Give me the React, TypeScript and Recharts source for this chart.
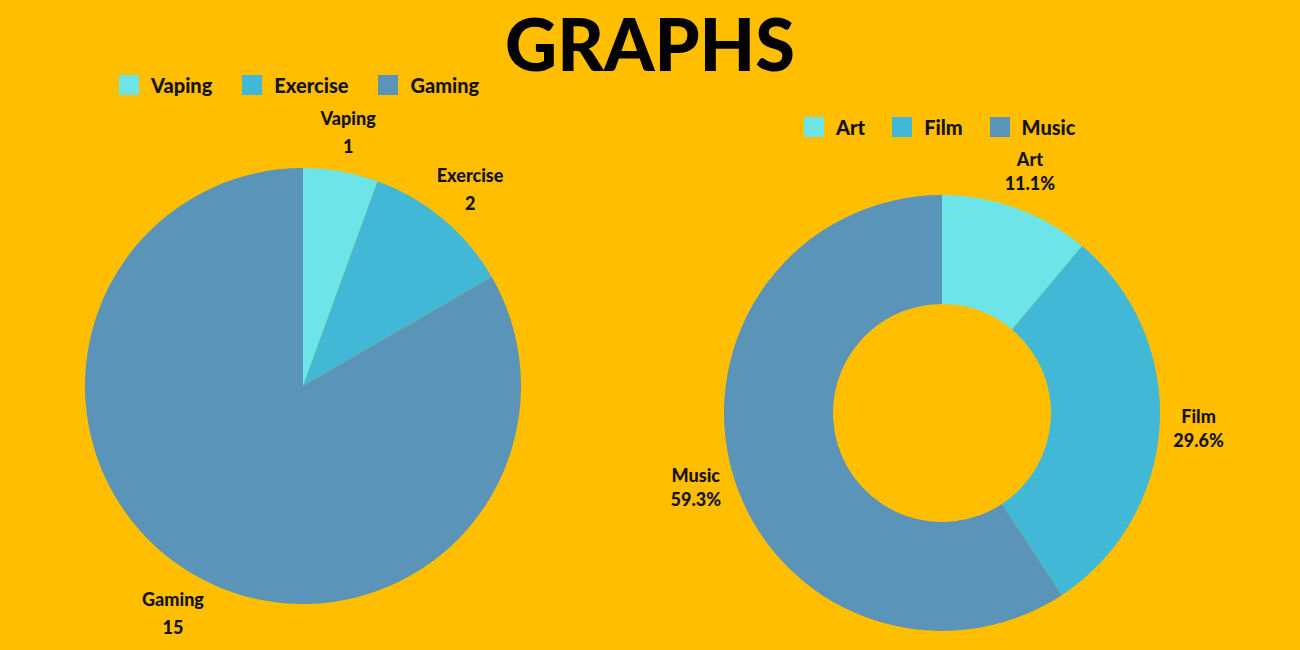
import { PieChart, Pie, Legend } from 'recharts';

const habitNames = ['Vaping', 'Exercise', 'Gaming'];
const habitValues = [1, 2, 15];

const hobbyNames = ['Art', 'Film', 'Music'];
const hobbyValues = [3, 8, 16];

const sliceColors = ['#6DE5E8', '#41B8D5', '#5A94B8'];

const BG = '#FFBE00';
const INK = '#161313';
const FONT = 'Lato, "Noto Sans", sans-serif';
const RAD = Math.PI / 180;
const NO_MARGIN = { top: 0, right: 0, bottom: 0, left: 0 };

const habitData = habitNames.map((name, i) => ({ name, value: habitValues[i], fill: sliceColors[i] }));
const hobbyData = hobbyNames.map((name, i) => ({ name, value: hobbyValues[i], fill: sliceColors[i] }));

function makeLabel(radius: number, lineGap: number, shift: number, showPercent: boolean) {
  return (props: any) => {
    const { cx, cy, midAngle, name, value, percent } = props;
    const a = midAngle * RAD;
    const x = cx + radius * Math.cos(a);
    const y = cy - radius * Math.sin(a);
    const second = showPercent ? `${(percent * 100).toFixed(1)}%` : String(value);
    return (
      <text x={x} y={y} textAnchor="middle" fill={INK} fontFamily={FONT} fontWeight={900} fontSize={18}>
        <tspan x={x} dy={-lineGap / 2 + shift}>{name}</tspan>
        <tspan x={x} dy={lineGap}>{second}</tspan>
      </text>
    );
  };
}

function makeLegend(order: string[], gap: number) {
  return (props: any) => {
    const items = [...(props.payload || [])].sort((a: any, b: any) => order.indexOf(a.value) - order.indexOf(b.value));
    return (
      <div style={{ display: 'flex', alignItems: 'center', fontFamily: FONT, fontWeight: 900, fontSize: 20, color: INK }}>
        {items.map((entry: any) => (
          <div key={entry.value} style={{ display: 'flex', alignItems: 'center', marginRight: gap }}>
            <span style={{ width: 20, height: 20, background: entry.color, marginRight: 12, display: 'inline-block' }} />
            <span>{entry.value}</span>
          </div>
        ))}
      </div>
    );
  };
}

export default function App() {
  return (
    <div style={{ position: 'absolute', top: 0, left: 0, width: 1300, height: 650, background: BG, overflow: 'hidden' }}>
      <div
        style={{
          position: 'absolute',
          top: 0,
          left: 0,
          width: 1300,
          textAlign: 'center',
          fontFamily: FONT,
          fontWeight: 900,
          fontSize: 72,
          lineHeight: '86px',
          color: '#000',
        }}
      >
        GRAPHS
      </div>
      <div style={{ position: 'absolute', top: 0, left: 0 }}>
        <PieChart width={650} height={650} margin={NO_MARGIN}>
          <Legend
            content={makeLegend(habitNames, 30)}
            verticalAlign="bottom"
            wrapperStyle={{ top: 73, left: 119, bottom: 'auto', width: 'auto' }}
          />
          <Pie
            data={habitData}
            dataKey="value"
            nameKey="name"
            cx={303}
            cy={386}
            outerRadius={218}
            startAngle={90}
            endAngle={-270}
            stroke="none"
            labelLine={false}
            label={makeLabel(260, 28, 9, false)}
            isAnimationActive={false}
          />
        </PieChart>
      </div>
      <div style={{ position: 'absolute', top: 0, left: 650 }}>
        <PieChart width={650} height={650} margin={NO_MARGIN}>
          <Legend
            content={makeLegend(hobbyNames, 27)}
            verticalAlign="bottom"
            wrapperStyle={{ top: 115, left: 154, bottom: 'auto', width: 'auto' }}
          />
          <Pie
            data={hobbyData}
            dataKey="value"
            nameKey="name"
            cx={292}
            cy={413}
            innerRadius={109}
            outerRadius={218}
            startAngle={90}
            endAngle={-270}
            stroke="none"
            labelLine={false}
            label={makeLabel(257, 24, 7, true)}
            isAnimationActive={false}
          />
        </PieChart>
      </div>
    </div>
  );
}
